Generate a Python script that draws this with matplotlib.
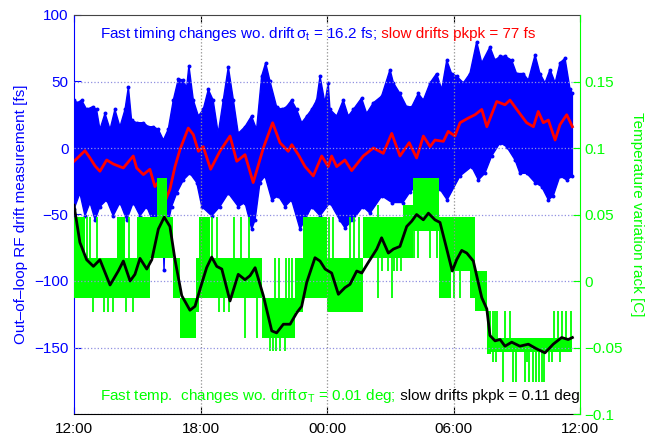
import matplotlib
matplotlib.use('Agg')
import matplotlib.pyplot as plt
import numpy as np

plt.rcParams['font.family'] = ['Liberation Sans', 'DejaVu Sans']
plt.rcParams['font.size'] = 11
plt.rcParams['mathtext.fontset'] = 'custom'
plt.rcParams['mathtext.rm'] = 'Liberation Sans'
plt.rcParams['mathtext.it'] = 'Liberation Sans'
plt.rcParams['mathtext.bf'] = 'Liberation Sans:bold'

# ---------------- data (time in hours after 12:00) ----------------
# slow timing drift (red), fs
red_t = [0.00, 0.52, 0.76, 1.00, 1.23, 1.55, 1.86, 2.34, 2.81, 2.97, 3.29, 3.60, 3.84, 4.08, 4.35, 4.55,
         4.79, 5.03, 5.42, 5.66, 5.90, 6.13, 6.48, 6.92, 7.40, 7.72, 8.11, 8.50, 8.98, 9.42, 9.77, 10.16,
         10.33, 10.64, 10.96, 11.35, 11.75, 12.06, 12.22, 12.46, 12.85, 13.17, 13.72, 14.20, 14.67, 15.07,
         15.46, 15.90, 16.25, 16.57, 16.89, 17.12, 17.52, 17.75, 18.07, 18.31, 18.70, 19.02, 19.34, 19.58,
         20.05, 20.44, 20.68, 21.00, 21.47, 21.79, 22.02, 22.26, 22.50, 22.82, 23.05, 23.37, 23.64]
red_v = [-10, -2, -7.5, -13.5, -17.5, -9, -12, -15, -6, -15, -20, -16, -29, -24, -39, -31,
         -14, -1, 15, 10, -2.5, 1, -16, -2.5, 9, -10, -5, -26, 0, 19, 4, -2.5,
         2.5, -5, -14, -21, -6, -14, -6, -14, -9, -17, -6, 0, -4, 11,
         -6, 4, -7.5, 9, 1, 6, 5, 12.5, 9, 19, 22.5, 25, 29, 16,
         35, 32.5, 36, 29, 19, 16, 27.5, 19, 21, 6, 17.5, 25, 16]

# fast timing measurement (blue): upper and lower envelope of the point cloud, fs
up_t = [0.0, 0.16, 0.36, 0.6, 0.88, 1.07, 1.23, 1.47, 1.71, 1.94, 2.18, 2.42, 2.58, 2.73, 2.97, 3.29,
        3.53, 3.76, 4.0, 4.24, 4.47, 4.71, 4.95, 5.19, 5.34, 5.45, 5.66, 5.9, 6.13, 6.37, 6.6, 6.84,
        7.08, 7.32, 7.56, 7.79, 8.11, 8.42, 8.66, 8.9, 9.09, 9.3, 9.61, 9.85, 10.08, 10.32, 10.56, 10.8,
        11.04, 11.27, 11.51, 11.67, 11.9, 12.06, 12.14, 12.46, 12.77, 13.01, 13.25, 13.64, 13.88, 14.2,
        14.59, 14.99, 15.15, 15.46, 15.78, 16.02, 16.33, 16.57, 16.89, 17.2, 17.44, 17.68, 17.91, 18.15,
        18.47, 18.78, 19.1, 19.34, 19.73, 19.97, 20.21, 20.44, 20.76, 20.99, 21.31, 21.55, 21.87, 22.1,
        22.34, 22.58, 22.82, 23.05, 23.29, 23.53, 23.64]
up_v = [36, 34, 36, 29, 31, 29, 14, 26, 14, 29, 16, 29, 46, 21, 19, 19,
        16, 16, 14, 6, 14, 36, 52, 51, 45, 62, 36, 24, 29, 44, 36, 11,
        36, 61, 36, 11, 16, 24, 14, 54, 64, 50, 31, 29, 31, 36, 29, 19,
        24, 29, 36, 54, 34, 49, 29, 24, 36, 24, 29, 37.5, 26, 34,
        39, 59, 49, 41, 31, 31, 41, 36, 49, 56, 44, 66, 56, 54,
        49, 56, 80, 64, 76, 66, 69, 69, 66, 56, 56, 51, 70, 56,
        49, 59, 49, 64, 67.5, 44, 41]
lo_t = [0.0, 0.28, 0.52, 0.76, 1.0, 1.23, 1.55, 1.86, 2.18, 2.5, 2.81, 3.13, 3.45, 3.76, 4.08, 4.22,
        4.27, 4.32, 4.4, 4.63, 4.87, 5.19, 5.5, 5.82, 6.06, 6.53, 6.92, 7.32, 7.79, 8.11, 8.43, 8.59,
        8.82, 9.06, 9.38, 9.69, 10.01, 10.32, 10.72, 10.96, 11.27, 11.67, 12.14, 12.6, 12.85, 13.23,
        13.7, 14.04, 14.6, 15.08, 15.6, 15.94, 16.41, 17.03, 17.36, 17.7, 18.31, 18.86, 19.18, 19.49,
        19.81, 20.21, 20.52, 20.92, 21.15, 21.47, 21.87, 22.18, 22.5, 22.73, 23.05, 23.37, 23.64]
lo_v = [-46, -34, -51, -41, -54, -44, -39, -51, -41, -54, -41, -51, -44, -56, -61, -64,
        -92, -64, -61, -44, -34, -24, -19, -26, -44, -51, -44, -34, -44, -41, -61, -54,
        -26, -21, -39, -36, -44, -39, -61, -54, -44, -51, -41, -54, -60, -54,
        -44, -49, -36, -41, -41, -33, -26, -36, -31, -39, -21, -14, -24, -19,
        -6, 4, 1, -9, -19, -19, -26, -29, -39, -36, -21, -24, -21]

# slow temperature drift (black), deg C
bk_t = [0.0, 0.28, 0.60, 0.92, 1.23, 1.71, 2.10, 2.34, 2.66, 2.89, 3.13, 3.45, 3.69, 4.00, 4.28, 4.55,
        4.79, 5.11, 5.50, 5.74, 5.98, 6.29, 6.53, 6.77, 7.01, 7.40, 7.79, 8.11, 8.35, 8.59, 8.98, 9.38,
        9.61, 9.93, 10.25, 10.56, 10.80, 11.04, 11.43, 11.67, 11.91, 12.22, 12.54, 12.85, 13.09, 13.41,
        13.65, 13.96, 14.36, 14.59, 14.91, 15.15, 15.46, 15.78, 16.02, 16.25, 16.57, 16.81, 17.12, 17.36,
        17.68, 17.94, 18.15, 18.39, 18.63, 18.94, 19.34, 19.58, 19.73, 19.97, 20.21, 20.44, 20.76, 21.15,
        21.55, 21.94, 22.34, 22.73, 23.13, 23.44, 23.64]
bk_T = [0.057, 0.029, 0.016, 0.011, 0.016, -0.003, 0.0075, 0.015, 0.0, 0.005, 0.017, 0.009, 0.016, 0.039, 0.048, 0.041,
        0.016, -0.011, -0.022, -0.019, -0.006, 0.010, 0.018, 0.011, 0.009, -0.015, 0.005, 0.001, 0.004, 0.010, -0.011, -0.0375,
        -0.039, -0.0325, -0.0325, -0.024, -0.019, -0.001, 0.0175, 0.015, 0.009, 0.006, -0.010, -0.005, -0.0025, 0.0075,
        0.006, 0.014, 0.024, 0.0325, 0.021, 0.024, 0.026, 0.041, 0.045, 0.050, 0.046, 0.051, 0.046, 0.044,
        0.024, 0.0075, 0.016, 0.023, 0.021, 0.015, -0.0125, -0.021, -0.041, -0.045, -0.044, -0.049, -0.046, -0.049,
        -0.0475, -0.051, -0.054, -0.0475, -0.0425, -0.044, -0.0425]

# fast temperature readings (green): quantised band (step segments) + single excursions
g_t = [0.00, 0.52, 2.02, 2.42, 2.97, 3.60, 3.95, 4.40, 4.70, 5.03, 5.80, 5.95, 6.45, 8.90, 10.50, 10.85,
       12.00, 13.70, 15.60, 16.10, 17.30, 17.90, 18.80, 19.00, 19.60, 19.80, 23.64]
g_lo = [-0.0125, -0.0125, -0.0125, -0.0125, -0.0125, 0.0175, 0.0175, 0.0175, -0.0125, -0.0425, -0.023, -0.0125,
        -0.0125, -0.0425, -0.023, -0.0125, -0.023, 0.0175, 0.0175, 0.0375, -0.0125, 0.0075, -0.0125, -0.0225,
        -0.055, -0.0535, -0.0535]
g_hi = [0.048, 0.0175, 0.048, 0.0175, 0.048, 0.048, 0.0775, 0.048, 0.0175, -0.0125, 0.0175, 0.048,
        0.0175, -0.0125, 0.0175, 0.048, 0.0175, 0.048, 0.057, 0.0775, 0.048, 0.048, 0.048, 0.0075,
        -0.0225, -0.0425, -0.0425]
g_sp_t = [0.62, 0.75, 1.1, 2.6, 6.55, 6.8, 7.6, 7.9, 8.3, 12.1, 12.3, 13.1, 13.3, 13.5,
          0.9, 1.4, 1.6, 1.85, 2.45, 2.8, 6.9, 7.1, 7.35,
          8.1, 8.67,
          9.55, 9.7, 10.05, 10.2, 10.35,
          9.3, 9.45, 9.6, 9.77, 10.0,
          14.6, 14.9, 15.2, 15.3, 15.5, 14.4, 15.07, 14.4,
          16.15, 16.3, 16.9, 17.2, 18.0, 18.3,
          19.85, 19.95, 20.05, 20.45, 20.7, 22.75, 22.95, 23.15, 23.35, 23.55,
          19.85, 20.0, 21.5, 22.55, 22.65, 23.05,
          20.35, 20.8, 20.95, 21.4, 21.6, 21.75, 21.9, 22.05, 22.2, 22.3]
g_sp_lo = [0.0175] * 14 + [-0.023] * 9 + [-0.0425] * 2 + [-0.0125] * 5 + [-0.053] * 5 + \
          [0.0075] * 5 + [-0.0125] * 2 + [0.048] + [0.0175] * 4 + [-0.0125] * 2 + \
          [-0.0225] * 10 + [-0.061] * 6 + [-0.076] * 10
g_sp_hi = [0.048] * 14 + [-0.0125] * 9 + [-0.0125] * 2 + [0.0175] * 5 + [-0.0425] * 5 + \
          [0.0175] * 5 + [0.0175] * 2 + [0.057] + [0.0375] * 4 + [0.0075] * 2 + \
          [-0.0425] * 10 + [-0.0535] * 6 + [-0.0535] * 10

x_ticks = [0, 6, 12, 18, 24]
x_labels = ['12:00', '18:00', '00:00', '06:00', '12:00']
left_ticks = [-150, -100, -50, 0, 50, 100]
right_ticks = [-0.1, -0.05, 0, 0.05, 0.1, 0.15]
right_labels = ['\u22120.1', '\u22120.05', '0', '0.05', '0.1', '0.15']

BLUE = '#0000ff'
RED = '#ff0000'
GREEN = '#00ff00'

fig = plt.figure(figsize=(6.51, 4.36), dpi=100)
ax = fig.add_axes([74 / 651, 22 / 436, 506 / 651, 399 / 436])
ax2 = ax.twinx()

# blue cloud: polygon through the envelope tips, dots at the tips
ax.fill(np.concatenate([up_t, lo_t[::-1]]), np.concatenate([up_v, lo_v[::-1]]),
        color=BLUE, lw=1.0, zorder=1)
ax.scatter(up_t, up_v, s=8, color=BLUE, lw=0, zorder=1)
ax.scatter(lo_t, lo_v, s=8, color=BLUE, lw=0, zorder=1)
ax.plot(red_t, red_v, color=RED, lw=2, zorder=3)
ax.set_xlim(0, 24)
ax.set_ylim(-200, 100)
ax.set_xticks(x_ticks)
ax.set_xticklabels(x_labels)
ax.set_yticks(left_ticks)

# green / black
ax2.fill_between(g_t, g_lo, g_hi, step='post', color=GREEN, lw=0, zorder=1)
ax2.vlines(g_sp_t, g_sp_lo, g_sp_hi, color=GREEN, lw=1.3, zorder=1)
ax2.plot(bk_t, bk_T, color='k', lw=2, zorder=3)
ax2.set_ylim(-0.1, 0.2)
ax2.set_yticks(right_ticks)
ax2.set_yticklabels(right_labels)

# grid on top
ax2.set_axisbelow(False)
ax2.grid(axis='y', ls=':', color='#9090e0', lw=0.9)
for t in x_ticks[1:-1]:
    ax2.axvline(t, ls=':', color='#909090', lw=0.9, zorder=2.5)

# styling
ax.tick_params(axis='y', colors=BLUE, direction='in', length=5, pad=4, labelsize=11)
ax.tick_params(axis='x', direction='in', top=True, length=5, pad=6, labelsize=11)
ax2.tick_params(axis='y', colors=GREEN, direction='in', length=5, pad=3, labelsize=11)
ax.spines['left'].set_color(BLUE)
ax.spines['right'].set_visible(False)
ax.spines['top'].set_color('#444444')
ax2.spines['left'].set_visible(False)
ax2.spines['top'].set_visible(False)
ax2.spines['bottom'].set_visible(False)
ax2.spines['right'].set_color(GREEN)

ax.set_ylabel('Out\u2013of\u2013loop RF drift measurement [fs]', color=BLUE, fontsize=11)
ax.yaxis.set_label_coords(-0.09, 0.5)
ax2.set_ylabel('Temperature variation rack [C]', color=GREEN, fontsize=11,
               rotation=270, va='center', ha='center')
ax2.yaxis.set_label_coords(1.113, 0.5)

# annotations
x0 = 0.0514
t1 = ax2.text(x0, 0.942, r'Fast timing changes wo. drift$\,\sigma_{t}$ = 16.2 fs;', color=BLUE,
              transform=ax.transAxes, va='baseline', fontsize=11, zorder=6)
b1 = ax2.text(x0, 0.035, r'Fast temp.  changes wo. drift$\,\sigma_{T}$ = 0.01 deg;', color=GREEN,
              transform=ax.transAxes, va='baseline', fontsize=11, zorder=6)
fig.canvas.draw()
r = fig.canvas.get_renderer()
bb1 = t1.get_window_extent(r)
bb2 = b1.get_window_extent(r)
xa1 = ax.transAxes.inverted().transform((bb1.x1, 0))[0]
xa2 = ax.transAxes.inverted().transform((bb2.x1, 0))[0]
ax2.text(xa1, 0.942, ' slow drifts pkpk = 77 fs', color=RED, transform=ax.transAxes,
         va='baseline', fontsize=11, zorder=6)
ax2.text(xa2, 0.035, ' slow drifts pkpk = 0.11 deg', color='k', transform=ax.transAxes,
         va='baseline', fontsize=11, zorder=6)

fig.savefig('out.png', dpi=100)
